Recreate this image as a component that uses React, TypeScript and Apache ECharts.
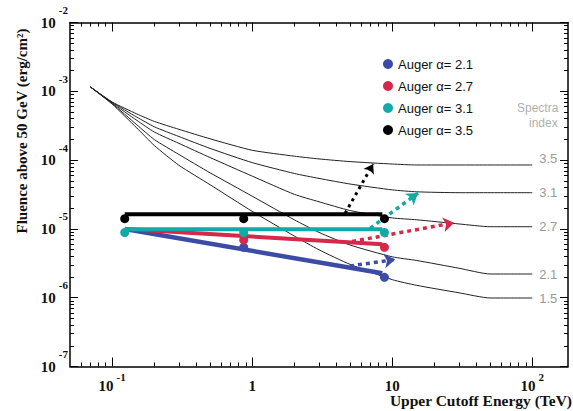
import React, { useEffect, useRef } from 'react';
import * as echarts from 'echarts';

// ---- data ----
const CURVE_X = [0.07, 0.1, 0.15, 0.2, 0.3, 0.5, 1, 2, 3, 5, 10, 15, 30, 50, 100];
const SPECTRAL_INDICES = ['3.5', '3.1', '2.7', '2.1', '1.5'];
const CURVE_35 = [1.155e-3, 6.99e-4, 4.69e-4, 3.65e-4, 2.8e-4, 2.04e-4, 1.39e-4, 1.14e-4, 1.04e-4, 9.51e-5, 8.77e-5, 8.49e-5, 8.49e-5, 8.49e-5, 8.49e-5];
const CURVE_31 = [1.155e-3, 6.92e-4, 4.22e-4, 3.05e-4, 2.2e-4, 1.48e-4, 9.2e-5, 6.39e-5, 5.42e-5, 4.49e-5, 3.69e-5, 3.46e-5, 3.36e-5, 3.36e-5, 3.36e-5];
const CURVE_27 = [1.155e-3, 6.78e-4, 3.78e-4, 2.56e-4, 1.75e-4, 1.09e-4, 5.85e-5, 3.18e-5, 2.48e-5, 1.85e-5, 1.445e-5, 1.356e-5, 1.18e-5, 1.076e-5, 1.076e-5];
const CURVE_21 = [1.155e-3, 6.65e-4, 3.26e-4, 1.99e-4, 1.206e-4, 6.54e-5, 2.99e-5, 1.356e-5, 8.89e-6, 5.83e-6, 3.93e-6, 3.47e-6, 2.68e-6, 2.21e-6, 2.21e-6];
const CURVE_15 = [1.155e-3, 6.52e-4, 2.93e-4, 1.63e-4, 8.4e-5, 4.39e-5, 1.8e-5, 7.88e-6, 4.97e-6, 3.05e-6, 1.83e-6, 1.51e-6, 1.178e-6, 9.9e-7, 9.9e-7];
const CURVES = [CURVE_35, CURVE_31, CURVE_27, CURVE_21, CURVE_15];

const AUGER_LABELS = ['Auger α= 2.1', 'Auger α= 2.7', 'Auger α= 3.1', 'Auger α= 3.5'];
const DOTS_21 = [[0.87, 5.4e-6], [8.8, 1.98e-6]];
const DOTS_27 = [[0.87, 6.9e-6], [8.8, 5.4e-6]];
const DOTS_31 = [[0.123, 8.86e-6], [0.87, 8.86e-6], [8.8, 8.86e-6]];
const DOTS_35 = [[0.123, 1.41e-5], [0.87, 1.41e-5], [8.8, 1.41e-5]];
const LINE_21 = [[0.123, 9.97e-6], [8.5, 2.26e-6]];
const LINE_27 = [[0.123, 9.97e-6], [8.5, 5.97e-6]];
const LINE_31 = [[0.123, 9.87e-6], [8.5, 9.87e-6]];
const LINE_35 = [[0.123, 1.63e-5], [8.5, 1.63e-5]];
const ARROW_21 = [[5.0, 2.89e-6], [10.5, 3.59e-6]];
const ARROW_27 = [[5.17, 6.56e-6], [27.7, 1.23e-5]];
const ARROW_31 = [[6.95, 1.02e-5], [15.3, 3.32e-5]];
const ARROW_35 = [[4.61, 1.685e-5], [7.3, 8.77e-5]];
const DOTS = [DOTS_21, DOTS_27, DOTS_31, DOTS_35];
const LINES = [LINE_21, LINE_27, LINE_31, LINE_35];
const ARROWS = [ARROW_21, ARROW_27, ARROW_31, ARROW_35];

const X_TICKS = [0.1, 1, 10, 100];
const X_TICK_BASE = ['10', '1', '10', '10'];
const X_TICK_EXP = ['-1', '', '', '2'];
const X_MINOR = [0.06, 0.07, 0.08, 0.09, 0.2, 0.3, 0.4, 0.5, 0.6, 0.7, 0.8, 0.9, 2, 3, 4, 5, 6, 7, 8, 9, 20, 30, 40, 50, 60, 70, 80, 90];
const Y_TICKS = [1e-7, 1e-6, 1e-5, 1e-4, 1e-3, 1e-2];
const Y_TICK_EXP = ['-7', '-6', '-5', '-4', '-3', '-2'];
const Y_MINOR: number[] = [];
[-7, -6, -5, -4, -3].forEach((e) => {
  [2, 3, 4, 5, 6, 7, 8, 9].forEach((k) => Y_MINOR.push(Number((k * Math.pow(10, e)).toPrecision(3))));
});

// ---- styles ----
const COLORS = ['#3b4ba6', '#d5284a', '#12a9a6', '#000000'];
const SERIF = "'Liberation Serif', 'Times New Roman', serif";
const SANS = "'Liberation Sans', Arial, sans-serif";

const X_MIN = 0.05;
const X_MAX = 180;
const Y_MIN = 1e-7;
const Y_MAX = 1e-2;

export default function App() {
  const ref = useRef<HTMLDivElement>(null);
  useEffect(() => {
    if (!ref.current) return;
    const chart = echarts.init(ref.current, null, { renderer: 'svg' });

    const axisLine = { show: true, onZero: false, lineStyle: { color: '#000', width: 1.5 } };
    const xMajor = (pos: string, labels: boolean) => ({
      type: 'log', logBase: 10, min: X_MIN, max: X_MAX, position: pos,
      axisLine,
      axisTick: { show: true, inside: true, length: 9, customValues: X_TICKS, lineStyle: { color: '#000', width: 1 } },
      axisLabel: labels
        ? {
            show: true, customValues: X_TICKS, margin: 5,
            formatter: (v: number) => {
              const i = X_TICKS.findIndex((t) => Math.abs(Math.log10(t) - Math.log10(v)) < 1e-6);
              if (i < 0) return '';
              return X_TICK_EXP[i] ? `{b|${X_TICK_BASE[i]}}{s|${X_TICK_EXP[i]}}` : `{b|${X_TICK_BASE[i]}}`;
            },
            rich: {
              b: { fontFamily: SERIF, fontWeight: 'bold', fontSize: 15, color: '#111', lineHeight: 28 },
              s: { fontFamily: SERIF, fontWeight: 'bold', fontSize: 11, color: '#111', lineHeight: 13, verticalAlign: 'top', padding: [0, 0, 0, 3] },
            },
          }
        : { show: false },
      splitLine: { show: false },
    });
    const xMinor = (pos: string) => ({
      type: 'log', logBase: 10, min: X_MIN, max: X_MAX, position: pos,
      axisLine: { show: false, onZero: false },
      axisTick: { show: true, inside: true, length: 4, customValues: X_MINOR, lineStyle: { color: '#000', width: 1 } },
      axisLabel: { show: false },
      splitLine: { show: false },
    });
    const yMajor = (pos: string, labels: boolean) => ({
      type: 'log', logBase: 10, min: Y_MIN, max: Y_MAX, position: pos,
      axisLine,
      axisTick: { show: true, inside: true, length: 8, customValues: Y_TICKS, lineStyle: { color: '#000', width: 1 } },
      axisLabel: labels
        ? {
            show: true, customValues: Y_TICKS, margin: 2,
            formatter: (v: number) => {
              const i = Y_TICKS.findIndex((t) => Math.abs(Math.log10(t) - Math.log10(v)) < 1e-6);
              if (i < 0) return '';
              return `{b|10}{s|${Y_TICK_EXP[i]}}`;
            },
            rich: {
              b: { fontFamily: SERIF, fontWeight: 'bold', fontSize: 15, color: '#111', lineHeight: 36 },
              s: { fontFamily: SERIF, fontWeight: 'bold', fontSize: 11, color: '#111', lineHeight: 13, verticalAlign: 'top', padding: [0, 0, 0, 3] },
            },
          }
        : { show: false },
      splitLine: { show: false },
    });
    const yMinor = (pos: string) => ({
      type: 'log', logBase: 10, min: Y_MIN, max: Y_MAX, position: pos,
      axisLine: { show: false, onZero: false },
      axisTick: { show: true, inside: true, length: 4, customValues: Y_MINOR, lineStyle: { color: '#000', width: 1 } },
      axisLabel: { show: false },
      splitLine: { show: false },
    });

    const curveSeries = CURVES.map((vals, ci) => ({
      type: 'line',
      name: 'index ' + SPECTRAL_INDICES[ci],
      data: CURVE_X.map((x, i) => [x, vals[i]]),
      showSymbol: false,
      symbol: 'none',
      smooth: 0.2,
      lineStyle: { color: '#222', width: 1, join: 'round' },
      z: 2,
      silent: true,
      endLabel: {
        show: true,
        formatter: SPECTRAL_INDICES[ci],
        color: '#9a9a9a',
        fontFamily: SANS,
        fontSize: 13,
        distance: 7,
        offset: ci === 0 ? [0, -6] : [0, 0],
      },
    }));

    const lineSeries = LINES.map((d, i) => ({
      type: 'line',
      name: 'line' + i,
      data: d,
      showSymbol: false,
      symbol: 'none',
      lineStyle: { color: COLORS[i], width: i === 0 ? 4.5 : 4 },
      z: 3,
      silent: true,
    }));

    const arrowSeries = ARROWS.map((d, i) => ({
      type: 'lines',
      coordinateSystem: 'cartesian2d',
      name: 'arrow' + i,
      data: [{ coords: d }],
      symbol: ['none', 'arrow'],
      symbolSize: i === 3 ? 9 : 11,
      lineStyle: { color: COLORS[i], width: i === 3 ? 3 : 3.5, type: i === 3 ? [3, 4] : [4, 4], opacity: 1 },
      z: 4,
      silent: true,
    }));

    const dotSeries = DOTS.map((d, i) => ({
      type: 'scatter',
      name: AUGER_LABELS[i],
      data: d,
      symbol: 'circle',
      symbolSize: 9,
      itemStyle: { color: COLORS[i], opacity: 1 },
      z: 5,
      silent: true,
    }));

    chart.setOption({
      animation: false,
      backgroundColor: '#ffffff',
      grid: { left: 70, right: 5, top: 22.5, bottom: 44.5, containLabel: false },
      xAxis: [xMajor('bottom', true), xMajor('top', false), xMinor('top'), xMinor('bottom')],
      yAxis: [yMajor('left', true), yMajor('right', false), yMinor('right'), yMinor('left')],
      legend: {
        show: true,
        orient: 'vertical',
        left: 378,
        top: 51,
        itemWidth: 10,
        itemHeight: 10,
        itemGap: 6,
        icon: 'circle',
        data: AUGER_LABELS,
        textStyle: { fontFamily: SANS, fontSize: 13, color: '#111', lineHeight: 16 },
        selectedMode: false,
      },
      graphic: [
        {
          type: 'text',
          x: 22,
          y: 131,
          rotation: Math.PI / 2,
          style: {
            text: 'Fluence above 50 GeV (erg/cm²)',
            font: `bold 15px ${SERIF}`,
            fill: '#111',
            textAlign: 'center',
            textVerticalAlign: 'middle',
          },
        },
        {
          type: 'text',
          x: 572,
          y: 400,
          style: {
            text: 'Upper Cutoff Energy (TeV)',
            font: `bold 15.5px ${SERIF}`,
            fill: '#111',
            textAlign: 'right',
            textVerticalAlign: 'middle',
          },
        },
        {
          type: 'text',
          x: 517,
          y: 108,
          style: { text: 'Spectra', font: `12px ${SANS}`, fill: '#b0b0b0', textAlign: 'left', textVerticalAlign: 'middle' },
        },
        {
          type: 'text',
          x: 529,
          y: 123,
          style: { text: 'index', font: `12px ${SANS}`, fill: '#b0b0b0', textAlign: 'left', textVerticalAlign: 'middle' },
        },
      ],
      series: [...curveSeries, ...lineSeries, ...arrowSeries, ...dotSeries],
    } as any);

    return () => chart.dispose();
  }, []);

  return <div ref={ref} style={{ position: 'fixed', left: 0, top: 0, width: 573, height: 411, background: '#fff' }} />;
}
